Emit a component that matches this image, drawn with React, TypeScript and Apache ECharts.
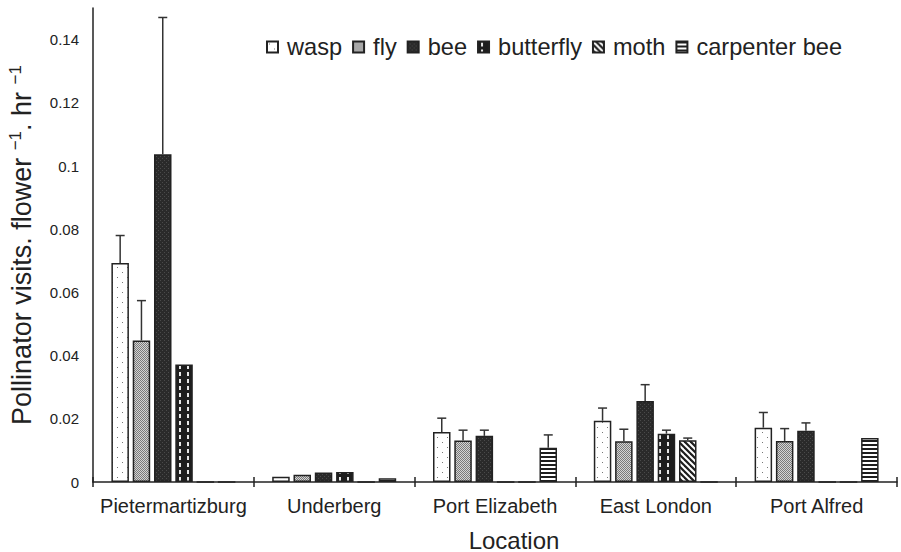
import React, { useEffect, useRef } from "react";
import * as echarts from "echarts";

const categories = ["Pietermartizburg", "Underberg", "Port Elizabeth", "East London", "Port Alfred"];
const seriesNames = ["wasp", "fly", "bee", "butterfly", "moth", "carpenter bee"];

const wasp = [0.0693, 0.0017, 0.0158, 0.0194, 0.0172];
const fly = [0.0448, 0.0023, 0.0131, 0.0129, 0.013];
const bee = [0.1037, 0.003, 0.0146, 0.0256, 0.0162];
const butterfly = [0.0372, 0.0032, 0, 0.0153, 0];
const moth = [0, 0, 0, 0.0132, 0];
const carpenterBee = [0, 0.0012, 0.0108, 0, 0.0139];

const waspSE = [0.0087, null, 0.0044, 0.004, 0.0048];
const flySE = [0.0126, null, 0.0033, 0.0038, 0.0039];
const beeSE = [0.0433, null, 0.0018, 0.0052, 0.0025];
const butterflySE = [null, null, null, 0.0011, null];
const mothSE = [null, null, null, 0.0007, null];
const carpenterBeeSE = [null, null, 0.0041, null, null];

const yTicks = [0, 0.02, 0.04, 0.06, 0.08, 0.1, 0.12, 0.14];

const FONT = "'Liberation Sans', Arial, sans-serif";
const BAR_W = 17.5;
const BAR_GAP = 0.217;
const PITCH = BAR_W * (1 + BAR_GAP);

function makePattern(w: number, h: number, draw: (ctx: CanvasRenderingContext2D) => void) {
  const c = document.createElement("canvas");
  c.width = w;
  c.height = h;
  const ctx = c.getContext("2d") as CanvasRenderingContext2D;
  draw(ctx);
  return { image: c.toDataURL(), repeat: "repeat", imageWidth: w, imageHeight: h };
}

function buildPatterns() {
  const p1 = makePattern(10, 10, (ctx) => {
    ctx.fillStyle = "#ffffff";
    ctx.fillRect(0, 0, 10, 10);
    ctx.fillStyle = "#777777";
    ctx.fillRect(2, 2, 1, 1);
    ctx.fillRect(7, 7, 1, 1);
  });
  const p2 = makePattern(2, 2, (ctx) => {
    ctx.fillStyle = "#d4d4d4";
    ctx.fillRect(0, 0, 2, 2);
    ctx.fillStyle = "#7a7a7a";
    ctx.fillRect(0, 0, 1, 1);
    ctx.fillRect(1, 1, 1, 1);
  });
  const p3 = makePattern(4, 4, (ctx) => {
    ctx.fillStyle = "#2a2a2a";
    ctx.fillRect(0, 0, 4, 4);
    ctx.fillStyle = "#4a4a4a";
    ctx.fillRect(0, 0, 1, 1);
    ctx.fillRect(2, 2, 1, 1);
  });
  const p4 = makePattern(8, 7, (ctx) => {
    ctx.fillStyle = "#1e1e1e";
    ctx.fillRect(0, 0, 8, 7);
    ctx.fillStyle = "#e8e8e8";
    ctx.fillRect(3, 1, 2, 4);
  });
  const p5 = makePattern(6, 6, (ctx) => {
    ctx.fillStyle = "#1e1e1e";
    ctx.fillRect(0, 0, 6, 6);
    ctx.strokeStyle = "#ffffff";
    ctx.lineWidth = 2;
    for (const c of [-6, 0, 6]) {
      ctx.beginPath();
      ctx.moveTo(c - 1, -1);
      ctx.lineTo(c + 7, 7);
      ctx.stroke();
    }
  });
  const p6 = makePattern(4, 4, (ctx) => {
    ctx.fillStyle = "#ffffff";
    ctx.fillRect(0, 0, 4, 4);
    ctx.fillStyle = "#1e1e1e";
    ctx.fillRect(0, 0, 4, 2);
  });
  return [p1, p2, p3, p4, p5, p6];
}

export default function App() {
  const ref = useRef<HTMLDivElement>(null);

  useEffect(() => {
    if (!ref.current) return;
    const chart = echarts.init(ref.current, null, { renderer: "svg" });
    const patterns = buildPatterns();
    const values = [wasp, fly, bee, butterfly, moth, carpenterBee];
    const errors = [waspSE, flySE, beeSE, butterflySE, mothSE, carpenterBeeSE];

    const errData: number[][] = [];
    errors.forEach((arr, si) => {
      arr.forEach((e, ci) => {
        if (e != null) errData.push([ci, si, values[si][ci], e]);
      });
    });

    const barSeries = seriesNames.map((name, i) => ({
      name,
      type: "bar",
      data: values[i],
      barWidth: BAR_W,
      barGap: BAR_GAP * 100 + "%",
      itemStyle: { color: patterns[i], borderColor: "#222", borderWidth: 1.5 },
      z: 2,
    }));

    const axisColor = "#222";

    chart.setOption({
      animation: false,
      textStyle: { fontFamily: FONT },
      grid: {
        left: 93,
        right: 4,
        top: 8,
        bottom: 70,
        containLabel: false,
        outerBoundsMode: "none",
      },
      legend: {
        data: seriesNames,
        left: 261,
        top: 30,
        icon: "rect",
        itemWidth: 11,
        itemHeight: 11,
        itemGap: 10,
        textStyle: { fontSize: 23.6, color: "#222", fontFamily: FONT, padding: [0, 0, 0, 4] },
      },
      xAxis: [
        {
          type: "category",
          data: categories,
          position: "bottom",
          axisLine: { lineStyle: { color: axisColor, width: 1.5 } },
          axisTick: { show: true, length: 5, lineStyle: { color: axisColor, width: 1.5 } },
          axisLabel: { fontSize: 20, color: "#222", margin: 14, interval: 0, fontFamily: FONT },
          name: "Location",
          nameLocation: "middle",
          nameGap: 46,
          nameTextStyle: { fontSize: 24, color: "#222", fontFamily: FONT, padding: [0, 0, 0, 38] },
        },
        {
          type: "category",
          data: categories,
          position: "bottom",
          axisLine: { show: false },
          axisTick: { show: true, inside: true, length: 5, lineStyle: { color: axisColor, width: 1.5 } },
          axisLabel: { show: false },
        },
      ],
      yAxis: {
        type: "value",
        min: 0,
        max: 0.15,
        interval: 0.02,
        splitLine: { show: false },
        axisLine: { show: true, lineStyle: { color: axisColor, width: 1.5 } },
        axisTick: { show: false },
        axisLabel: {
          fontSize: 15,
          color: "#222",
          margin: 14,
          fontFamily: FONT,
          showMaxLabel: false,
          formatter: (v: number) => {
            const r = parseFloat(v.toFixed(2));
            return yTicks.indexOf(r) >= 0 ? String(r) : "";
          },
        },
        name: "Pollinator visits. flower {s|−1}. hr {s|−1}",
        nameLocation: "middle",
        nameGap: 56,
        nameTextStyle: {
          fontSize: 27,
          color: "#222",
          fontFamily: FONT,
          lineHeight: 30,
          rich: {
            s: { fontSize: 17, verticalAlign: "top", lineHeight: 17, color: "#222", fontFamily: FONT },
          },
        },
      },
      series: [
        ...barSeries,
        {
          name: "error",
          type: "custom",
          z: 3,
          data: errData,
          encode: { x: 0, y: 2 },
          renderItem: (params: any, api: any) => {
            const ci = api.value(0);
            const si = api.value(1);
            const v = api.value(2);
            const e = api.value(3);
            const base = api.coord([ci, v]);
            const top = api.coord([ci, v + e]);
            const x = base[0] + (si - 2.5) * PITCH;
            const st = { stroke: "#333", lineWidth: 1.5 };
            return {
              type: "group",
              children: [
                { type: "line", shape: { x1: x, y1: base[1], x2: x, y2: top[1] }, style: st },
                { type: "line", shape: { x1: x - 4.5, y1: top[1], x2: x + 4.5, y2: top[1] }, style: st },
              ],
            };
          },
        },
      ],
    });

    return () => chart.dispose();
  }, []);

  return (
    <div
      ref={ref}
      style={{ position: "fixed", left: 0, top: 0, width: 901, height: 552, background: "#fff" }}
    />
  );
}
